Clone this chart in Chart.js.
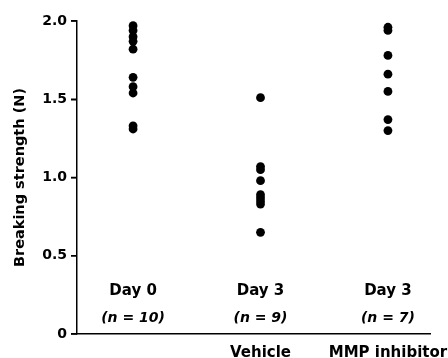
<!DOCTYPE html>
<html>
<head>
<meta charset="utf-8">
<script src="https://cdn.jsdelivr.net/npm/chart.js@4/dist/chart.umd.min.js"></script>
<style>
  html, body { margin: 0; padding: 0; background: #fff; }
  #wrap { width: 448px; height: 358px; }
</style>
</head>
<body>
<div id="wrap"><canvas id="c" width="448" height="358"></canvas></div>
<script>
// ---- data ----
const groupPositions = [1, 2, 3];
const groupTopLabels = ["Day 0", "Day 3", "Day 3"];
const groupNLabels = ["10", "9", "7"];
const bottomTickValues = [2, 3];
const bottomTickLabels = ["Vehicle", "MMP inhibitor"];
const day0Values = [1.97, 1.94, 1.90, 1.87, 1.82, 1.64, 1.58, 1.54, 1.33, 1.31];
const vehicleValues = [1.51, 1.07, 1.05, 0.98, 0.89, 0.87, 0.85, 0.83, 0.65];
const mmpValues = [1.96, 1.94, 1.78, 1.66, 1.55, 1.37, 1.30];
const yTickValues = [0, 0.5, 1.0, 1.5, 2.0];
const yTitle = "Breaking strength (N)";

const FONT = "'DejaVu Sans', sans-serif";
const groups = [day0Values, vehicleValues, mmpValues];
const datasets = groups.map((vals, i) => ({
  data: vals.map(v => ({ x: groupPositions[i], y: v })),
  backgroundColor: '#000',
  borderColor: '#000',
  pointRadius: 4.4,
  pointHoverRadius: 4.4,
  borderWidth: 0
}));

const groupLabelPlugin = {
  id: 'groupLabels',
  afterDraw(chart) {
    const ctx = chart.ctx;
    const xs = chart.scales.x, ys = chart.scales.y;
    ctx.save();
    // y-axis tick marks (outward)
    ctx.strokeStyle = '#000';
    ctx.lineWidth = 1.5;
    yTickValues.forEach(v => {
      const py = ys.getPixelForValue(v);
      ctx.beginPath();
      ctx.moveTo(ys.right - 6, py);
      ctx.lineTo(ys.right, py);
      ctx.stroke();
    });
    ctx.fillStyle = '#000';
    ctx.textBaseline = 'alphabetic';
    groupPositions.forEach((p, i) => {
      const x = xs.getPixelForValue(p);
      const y1 = ys.getPixelForValue(0.25);
      ctx.font = "bold 15px " + FONT;
      ctx.textAlign = 'center';
      ctx.fillText(groupTopLabels[i], x, y1);
      const y2 = y1 + 27;
      ctx.font = "italic bold 14px " + FONT;
      const parts = ["(", "n", " = " + groupNLabels[i] + ")"];
      const widths = parts.map(t => ctx.measureText(t).width);
      const total = widths.reduce((a, b) => a + b, 0);
      let cx = x - total / 2;
      ctx.textAlign = 'left';
      parts.forEach((t, k) => {
        ctx.fillText(t, cx, y2);
        cx += widths[k];
      });
    });
    ctx.restore();
  }
};

new Chart(document.getElementById('c'), {
  type: 'scatter',
  data: { datasets },
  options: {
    responsive: false,
    animation: false,
    devicePixelRatio: 1,
    layout: { padding: { left: 0, top: 21, right: 18, bottom: 0 } },
    plugins: { legend: { display: false }, tooltip: { enabled: false } },
    scales: {
      x: {
        type: 'linear',
        min: 0.56,
        max: 3.33,
        afterBuildTicks(scale) { scale.ticks = bottomTickValues.map(v => ({ value: v })); },
        afterFit(scale) {
          scale.height = 24;
          scale.paddingLeft = 0; scale.paddingRight = 0;
          scale.paddingTop = 0; scale.paddingBottom = 0;
        },
        ticks: {
          autoSkip: false,
          maxRotation: 0,
          padding: 10,
          color: '#000',
          font: { family: FONT, weight: 'bold', size: 15 },
          callback(value) {
            const i = bottomTickValues.indexOf(value);
            return i >= 0 ? bottomTickLabels[i] : '';
          }
        },
        grid: { display: true, drawOnChartArea: false, drawTicks: false, color: 'rgba(0,0,0,0)' },
        border: { display: true, color: '#000', width: 1.5 }
      },
      y: {
        type: 'linear',
        min: 0,
        max: 2.0,
        afterBuildTicks(scale) { scale.ticks = yTickValues.map(v => ({ value: v })); },
        afterFit(scale) {
          scale.width = 77;
          scale.paddingTop = 0; scale.paddingBottom = 0;
          scale.paddingLeft = 0; scale.paddingRight = 0;
        },
        ticks: {
          padding: 4,
          color: '#000',
          font: { family: FONT, weight: 'bold', size: 14 },
          callback(value) { return value === 0 ? '0' : value.toFixed(1); }
        },
        grid: { display: true, drawOnChartArea: false, drawTicks: true, tickLength: 6, color: '#000', tickColor: '#000', lineWidth: 1.5, tickWidth: 1.5 },
        border: { display: true, color: '#000', width: 1.5 },
        title: {
          display: true,
          text: yTitle,
          color: '#000',
          font: { family: FONT, weight: 'bold', size: 14.5 },
          padding: { top: 12, bottom: 0 }
        }
      }
    }
  },
  plugins: [groupLabelPlugin]
});
</script>
</body>
</html>
